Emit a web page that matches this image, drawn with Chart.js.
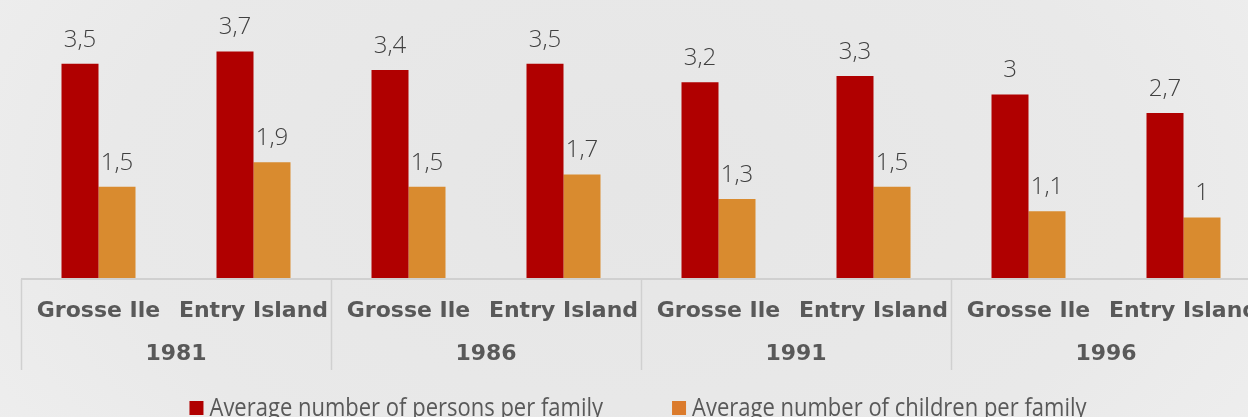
<!DOCTYPE html>
<html>
<head>
<meta charset="utf-8">
<script src="https://cdn.jsdelivr.net/npm/chart.js@4.4.1/dist/chart.umd.min.js"></script>
<style>
  html, body { margin: 0; padding: 0; overflow: hidden; width: 1248px; height: 417px; }
  body { background: radial-gradient(ellipse 75% 140% at 50% 45%, #e6e6e6 0%, #e9e9e9 55%, #f2f2f2 100%); }
  #wrap { width: 1262px; height: 417px; }
</style>
</head>
<body>
<div id="wrap"><canvas id="chart" width="1262" height="417"></canvas></div>
<script>
const years = ["1981", "1986", "1991", "1996"];
const places = ["Grosse Ile", "Entry Island"];
const categories = ["Grosse Ile", "Entry Island", "Grosse Ile", "Entry Island",
  "Grosse Ile", "Entry Island", "Grosse Ile", "Entry Island"];
const persons = [3.5, 3.7, 3.4, 3.5, 3.2, 3.3, 3.0, 2.7];
const children = [1.5, 1.9, 1.5, 1.7, 1.3, 1.5, 1.1, 1.0];
const seriesNames = ["Average number of persons per family", "Average number of children per family"];

const RED = "#b00000";
const ORANGE = "#d98b2f";
const LEGEND_ORANGE = "#db7b2c";
const AXIS_FONT = "600 22px 'DejaVu Sans'";

// draws value labels, the two level category axis and the legend
const extras = {
  id: "extras",
  afterDatasetsDraw(chart) {
    const ctx = chart.ctx;
    ctx.save();
    ctx.font = "300 24px 'Open Sans'";
    ctx.fillStyle = "#404040";
    ctx.textAlign = "center";
    ctx.textBaseline = "middle";
    chart.data.datasets.forEach((ds, i) => {
      chart.getDatasetMeta(i).data.forEach((bar, j) => {
        ctx.fillText(String(ds.data[j]).replace(".", ","), bar.x, bar.y - 24);
      });
    });
    ctx.restore();
  },
  afterDraw(chart) {
    const ctx = chart.ctx;
    const x = chart.scales.x;
    const area = chart.chartArea;
    const step = x.getPixelForValue(1) - x.getPixelForValue(0);
    ctx.save();

    // axis line
    ctx.strokeStyle = "#d0d0d0";
    ctx.lineWidth = 2;
    ctx.beginPath();
    ctx.moveTo(area.left, area.bottom);
    ctx.lineTo(area.right, area.bottom);
    ctx.stroke();

    // group separators
    ctx.lineWidth = 1.5;
    for (let g = 0; g <= years.length; g++) {
      const px = Math.round(x.getPixelForValue(g * places.length) - step / 2) + 0.5;
      ctx.beginPath();
      ctx.moveTo(px, area.bottom);
      ctx.lineTo(px, area.bottom + 91);
      ctx.stroke();
    }

    // category and year labels
    ctx.font = AXIS_FONT;
    ctx.fillStyle = "#595959";
    ctx.textAlign = "center";
    ctx.textBaseline = "middle";
    categories.forEach((c, i) => {
      ctx.fillText(c, x.getPixelForValue(i), area.bottom + 32);
    });
    years.forEach((y, g) => {
      const a = x.getPixelForValue(g * places.length);
      const b = x.getPixelForValue(g * places.length + places.length - 1);
      ctx.fillText(y, (a + b) / 2, area.bottom + 75);
    });

    // legend (narrow text, squeezed horizontally)
    const squeeze = 0.88;
    ctx.font = "25px 'Open Sans'";
    ctx.textAlign = "left";
    ctx.textBaseline = "alphabetic";
    const colors = [RED, LEGEND_ORANGE];
    const w = seriesNames.map(s => ctx.measureText(s).width * squeeze);
    const gap = 69;
    const total = (14 + 6) * 2 + w[0] + w[1] + gap;
    let lx = 638 - total / 2;
    seriesNames.forEach((s, i) => {
      ctx.fillStyle = colors[i];
      ctx.fillRect(lx, 401, 14, 14);
      ctx.fillStyle = "#595959";
      ctx.save();
      ctx.translate(lx + 20, 416);
      ctx.scale(squeeze, 1);
      ctx.fillText(s, 0, 0);
      ctx.restore();
      lx += 20 + w[i] + gap;
    });
    ctx.restore();
  }
};

new Chart(document.getElementById("chart"), {
  type: "bar",
  data: {
    labels: categories,
    datasets: [
      { label: seriesNames[0], data: persons, backgroundColor: RED },
      { label: seriesNames[1], data: children, backgroundColor: ORANGE }
    ]
  },
  options: {
    responsive: false,
    animation: false,
    layout: { padding: { left: 21, right: 1, top: 33, bottom: 0 } },
    categoryPercentage: 74 / 155,
    barPercentage: 1,
    scales: {
      x: {
        grid: { display: false },
        border: { display: false },
        ticks: { display: false },
        afterFit(scale) { scale.height = 138; }
      },
      y: {
        display: false,
        min: 0,
        max: 4
      }
    },
    plugins: {
      legend: { display: false },
      tooltip: { enabled: false }
    }
  },
  plugins: [extras]
});
</script>
</body>
</html>
